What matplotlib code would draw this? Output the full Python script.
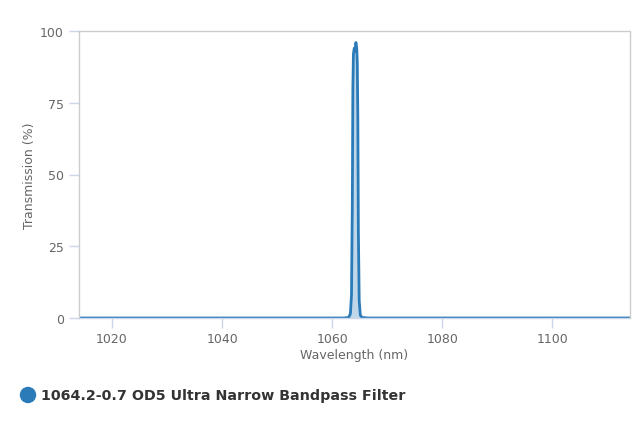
import numpy as np
import matplotlib
matplotlib.use("Agg")
import matplotlib.pyplot as plt
from matplotlib.patches import Ellipse

# spectrum (wavelength nm, transmission %)
wavelength = [1014.0, 1040.0, 1062.0, 1063.0, 1063.3, 1063.5, 1063.65, 1063.75, 1063.85,
              1064.0, 1064.15, 1064.3, 1064.45, 1064.55, 1064.65, 1064.75, 1064.9,
              1065.1, 1065.4, 1066.5, 1090.0, 1114.0]
transmission = [0.0, 0.0, 0.0, 0.2, 1.5, 8.0, 40.0, 80.0, 92.0,
                94.0, 93.0, 96.0, 94.0, 89.0, 70.0, 30.0, 6.0,
                1.0, 0.2, 0.0, 0.0, 0.0]

x_ticks = [1020, 1040, 1060, 1080, 1100]
y_ticks = [0, 25, 50, 75, 100]
series_name = "1064.2-0.7 OD5 Ultra Narrow Bandpass Filter"

line_color = "#2b7bb9"
tick_color = "#ccd6eb"
text_color = "#666666"

fig = plt.figure(figsize=(6.4, 4.27), dpi=100, facecolor="w")
ax = fig.add_axes([79 / 640, 108 / 427, 550.5 / 640, 287 / 427])

ax.fill_between(wavelength, transmission, 0, color=line_color, alpha=0.3, linewidth=0)
ax.plot(wavelength, transmission, color=line_color, linewidth=2, solid_joinstyle="round")

ax.set_xlim(1014, 1114)
ax.set_ylim(0, 100)
ax.set_xticks(x_ticks)
ax.set_yticks(y_ticks)
ax.tick_params(axis="both", direction="out", length=7, width=1, color=tick_color,
               labelcolor=text_color, labelsize=9)
ax.tick_params(axis="x", pad=3)
ax.tick_params(axis="y", pad=4)

for side in ["left", "right", "top", "bottom"]:
    ax.spines[side].set_color("#cccccc")
    ax.spines[side].set_linewidth(1)
ax.spines["bottom"].set_color(tick_color)

ax.set_xlabel("Wavelength (nm)", color=text_color, fontsize=9, labelpad=2)
ax.set_ylabel("Transmission (%)", color=text_color, fontsize=9, labelpad=3)

# legend drawn by hand like the original
fig.add_artist(Ellipse((28 / 640, 1 - 396 / 427), 15 / 640, 15 / 427,
                       transform=fig.transFigure, color=line_color))
fig.text(41 / 640, 1 - 396 / 427, series_name, fontsize=10.3, fontweight="bold",
         color="#333333", va="center", ha="left")

fig.savefig("out.png", dpi=100)
